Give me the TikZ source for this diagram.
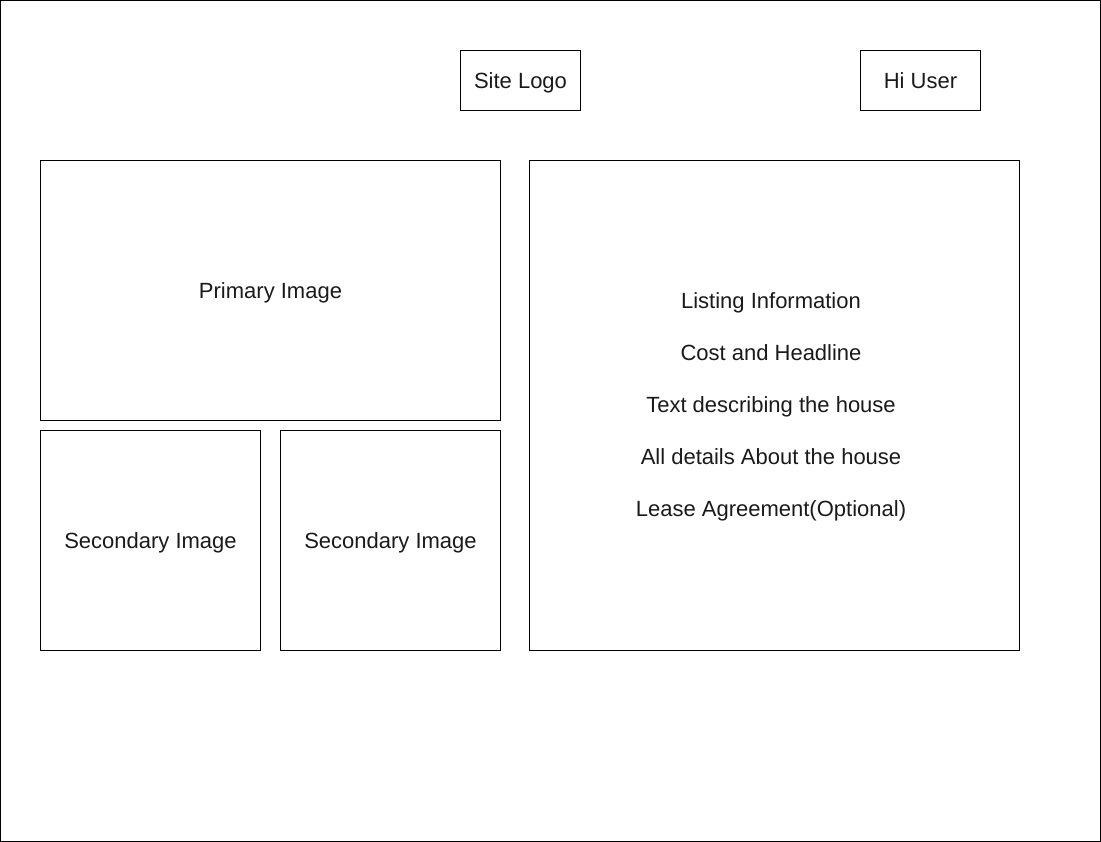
\documentclass[tikz,border=0pt]{standalone}
\usepackage{fontspec}
\setmainfont{Liberation Sans}
\definecolor{txt}{HTML}{1A1A1A}
\begin{document}
\begin{tikzpicture}[x=1pt,y=-1pt,
  box/.style={draw=black,line width=1pt,inner sep=0pt,outer sep=0pt,anchor=north west,
    text=txt,font=\fontsize{22}{26}\selectfont,text height=16pt,text depth=0.5pt},
  label/.style={inner sep=0pt,outer sep=0pt,text=txt,align=center,
    font=\fontsize{22}{52}\selectfont},
  frame/.style={draw=black,line width=1pt}]
\useasboundingbox (0,0) rectangle (1101,842);
\draw[frame] (0.5,0.5) rectangle (1100.5,841.5);
\node[box,minimum width=120pt,minimum height=60pt] (logo) at (460.5,50.5) {Site Logo};
\node[box,minimum width=120pt,minimum height=60pt] (user) at (860.5,50.5) {Hi User};
\node[box,minimum width=460pt,minimum height=260pt] (primary) at (40.5,160.5) {Primary Image};
\node[box,minimum width=220pt,minimum height=220pt] (sec1) at (40.5,430.5) {Secondary Image};
\node[box,minimum width=220pt,minimum height=220pt] (sec2) at (280.5,430.5) {Secondary Image};
\node[box,minimum width=490pt,minimum height=490pt] (info) at (529.5,160.5) {};
\node[label] (infotext) at ([xshift=-3.5pt,yshift=-1pt]info.center)
  {Listing Information\\Cost and Headline\\Text describing the house\\All details About the house\\Lease Agreement(Optional)};
\end{tikzpicture}
\end{document}
